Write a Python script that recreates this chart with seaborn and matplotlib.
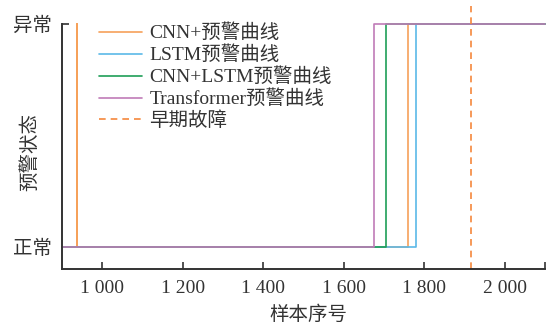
import matplotlib
matplotlib.use("Agg")
import matplotlib.pyplot as plt
import seaborn as sns
import pandas as pd

# Alarm state change points for each model (sample index, state 0=normal 1=abnormal)
cnn_samples = [900, 938, 938, 1760, 2100]
cnn_states = [0, 1, 0, 1, 1]

lstm_samples = [900, 1780, 2100]
lstm_states = [0, 1, 1]

cnn_lstm_samples = [900, 1704, 2100]
cnn_lstm_states = [0, 1, 1]

transformer_samples = [900, 1675, 2100]
transformer_states = [0, 1, 1]

fault_sample = 1915

series_names = ["CNN+预警曲线", "LSTM预警曲线", "CNN+LSTM预警曲线", "Transformer预警曲线"]
series_colors = ["#f6a15a", "#5bb9e8", "#1f9e58", "#c07cb8"]
fault_label = "早期故障"
fault_color = "#f5883c"

x_ticks = [1000, 1200, 1400, 1600, 1800, 2000]
x_tick_labels = ["1 000", "1 200", "1 400", "1 600", "1 800", "2 000"]
y_ticks = [0, 1]
y_tick_labels = ["正常", "异常"]

sns.set_theme(style="white")
plt.rcParams["font.family"] = ["Liberation Serif", "Noto Sans CJK SC"]

fig = plt.figure(figsize=(5.47, 3.26), dpi=100)
ax = fig.add_axes([0.1133, 0.1748, 0.883, 0.8068])

data_sets = [
    (cnn_samples, cnn_states),
    (lstm_samples, lstm_states),
    (cnn_lstm_samples, cnn_lstm_states),
    (transformer_samples, transformer_states),
]
for (xs, ys), name, color in zip(data_sets, series_names, series_colors):
    df = pd.DataFrame({"sample": xs, "state": ys})
    sns.lineplot(data=df, x="sample", y="state", ax=ax, color=color,
                 drawstyle="steps-post", linewidth=1.2, estimator=None,
                 sort=False, label=name, clip_on=False)

ax.axvline(fault_sample, color=fault_color, linestyle=(0, (4, 3)),
           linewidth=1.2, label=fault_label)

ax.set_xlim(900, 2100)
ax.set_ylim(-0.1, 1.08)
ax.set_xticks(x_ticks)
ax.set_xticklabels(x_tick_labels)
ax.set_xticks([2100], minor=True)
ax.set_yticks(y_ticks)
ax.set_yticklabels(y_tick_labels)

for side in ["top", "right"]:
    ax.spines[side].set_visible(False)
for side in ["left", "bottom"]:
    ax.spines[side].set_color("#333333")
    ax.spines[side].set_linewidth(1.4)
ax.spines["left"].set_bounds(-0.1, 1.0)

ax.tick_params(axis="both", which="both", direction="in", length=5, width=1.2,
               color="#333333", labelsize=14, labelcolor="#333333",
               bottom=True, left=True)
ax.tick_params(axis="x", pad=8)
ax.tick_params(axis="y", pad=7)

ax.set_xlabel("样本序号", fontsize=14, color="#333333")
ax.set_ylabel("预警状态", fontsize=14, color="#333333")
ax.xaxis.set_label_coords(0.51, -0.14)
ax.yaxis.set_label_coords(-0.048, 0.445)

leg = ax.legend(loc="upper left", bbox_to_anchor=(0.06, 0.962), frameon=False,
                fontsize=14, handlelength=2.2, handletextpad=0.4,
                labelspacing=0.17, borderaxespad=0)
for t in leg.get_texts():
    t.set_color("#333333")

fig.savefig("out.png", dpi=100, facecolor="white")
